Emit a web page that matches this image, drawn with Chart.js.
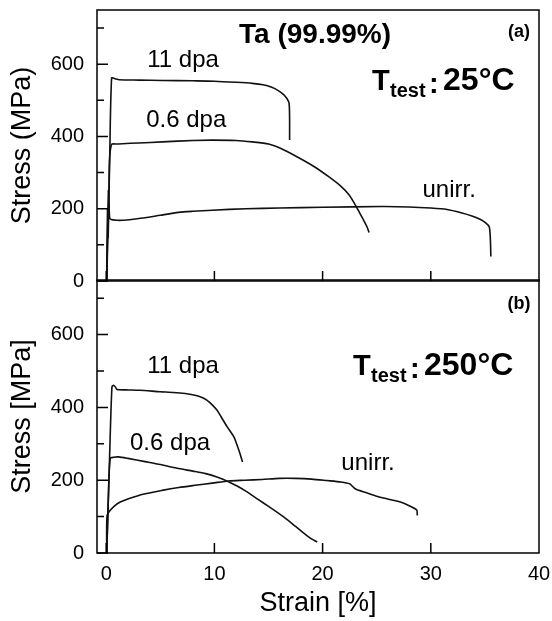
<!DOCTYPE html>
<html>
<head>
<meta charset="utf-8">
<script src="https://cdn.jsdelivr.net/npm/chart.js@4/dist/chart.umd.min.js"></script>
<style>
  html, body { margin: 0; padding: 0; background: #fff; }
  #wrap { position: relative; width: 552px; height: 621px; overflow: hidden; }
  #wrap canvas { position: absolute; left: 0; }
  #topChart { top: -15px; }
  #botChart { top: 255px; }
</style>
</head>
<body>
<div id="wrap">
  <canvas id="topChart" width="552" height="321"></canvas>
  <canvas id="botChart" width="552" height="366"></canvas>
</div>
<script>
// strain [%], stress [MPa]
// (a) T_test = 25°C
const rt11dpa = [[0.05,0],[0.3,300],[0.5,562],[0.8,560],[1.2,557],[3,556],[5.2,555],[8,554],[10,553],[12,550],
  [13.5,547],[14.5,543],[15.3,536],[15.9,527],[16.4,516],[16.7,505],[16.9,492],[16.95,450],[16.95,390]];
const rt06dpa = [[0.05,0],[0.2,250],[0.25,180],[0.3,330],[0.5,378],[1,379],[1.5,380],[3,382],[5.2,385],[8,389],
  [9.8,390],[12,389],[13.5,385],[15,379],[16.2,366],[17.5,346],[19.2,317],[20.5,290],[21.7,262],[22.4,240],
  [22.9,217],[23.4,190],[23.8,168],[24.1,150],[24.3,134]];
const rtUnirr = [[0.05,0],[0.12,200],[0.18,120],[0.25,215],[0.32,175],[0.45,170],[1,168],[1.5,168],[2.5,171],
  [3.6,175],[5,182],[6.7,190],[8,193],[9.8,196],[12.9,200],[16,202],[20,204],[25.4,206],[28,205],[30,202],
  [31.5,198],[32.8,189],[33.8,180],[34.6,170],[35.1,160],[35.4,150],[35.5,120],[35.55,68]];

// (b) T_test = 250°C
const ht11dpa = [[0.05,0],[0.3,250],[0.53,456],[0.68,461],[0.85,456],[1,449],[2,448],[3.1,447],[5,443],[6.2,441],
  [7.3,438],[8.1,434],[8.8,428],[9.3,420],[9.8,407],[10.25,392],[10.6,375],[11.2,346],[11.8,319],[12.1,296],
  [12.4,270],[12.6,250]];
const ht06dpa = [[0.05,0],[0.2,150],[0.37,260],[0.7,263],[1.15,264],[2,260],[3.6,251],[5,243],[6.7,232],[8,225],
  [9.2,218],[10.3,208],[11.3,196],[12.1,184],[12.9,170],[14,148],[15,128],[16.4,99],[17.5,73],[18.2,56],
  [18.9,40],[19.5,30]];
const htUnirr = [[0.05,0],[0.08,103],[0.4,118],[0.83,131],[1.3,140],[2.06,149],[3.5,162],[5.15,172],[6.7,180],
  [8.2,186],[9.8,192],[11.3,198],[12.8,200],[14.4,202],[16,205],[17.5,205],[19,203],[20.4,199],[21.7,195],
  [22.5,190],[22.8,182],[23.1,175],[24,166],[25.1,155],[26.2,147],[27.2,140],[28,130],[28.7,118],[28.75,103]];

const xTicks = [0, 10, 20, 30, 40];
const yTicks = [0, 100, 200, 300, 400, 500, 600, 700];
const yLabels = [0, 200, 400, 600];

// text placed in data coordinates
const topNotes = [
  { text: 'Ta (99.99%)', x: 19.3, y: 658, size: 28, bold: true },
  { text: '(a)', x: 38.15, y: 674, size: 18, bold: true },
  { text: '11 dpa', x: 7.1, y: 592, size: 24 },
  { text: '0.6 dpa', x: 7.4, y: 427, size: 24 },
  { text: 'unirr.', x: 31.7, y: 233, size: 24 }
];
const botNotes = [
  { text: '(b)', x: 38.15, y: 670, size: 18, bold: true },
  { text: '11 dpa', x: 7.1, y: 494, size: 24 },
  { text: '0.6 dpa', x: 5.9, y: 282, size: 24 },
  { text: 'unirr.', x: 24.2, y: 227, size: 24 }
];
const topTemp = { x: 24.57, y: 529, value: '25°C' };
const botTemp = { x: 22.81, y: 489, value: '250°C' };

const FONT = '"Liberation Sans", Arial, Helvetica, sans-serif';
Chart.defaults.font.family = FONT;
Chart.defaults.color = '#000';

const toXY = arr => arr.map(p => ({ x: p[0], y: p[1] }));
const curve = arr => ({
  data: toXY(arr), showLine: true, borderColor: '#111', borderWidth: 1.6,
  pointRadius: 0, tension: 0.25, fill: false
});

const framePlugin = {
  id: 'frame',
  afterDatasetsDraw(chart) {
    const { ctx, chartArea: a, scales: { x, y } } = chart;
    ctx.save();
    ctx.strokeStyle = '#000';
    ctx.lineWidth = 1.5;
    ctx.strokeRect(a.left, a.top, a.right - a.left, a.bottom - a.top);
    ctx.beginPath();
    yTicks.forEach(v => {
      const py = y.getPixelForValue(v);
      const len = yLabels.includes(v) ? 11 : 7;
      ctx.moveTo(a.left, py); ctx.lineTo(a.left + len, py);
    });
    xTicks.slice(0, -1).forEach(v => {
      const px = x.getPixelForValue(v);
      ctx.moveTo(px, a.bottom); ctx.lineTo(px, a.bottom - 10);
    });
    ctx.stroke();
    ctx.restore();
  }
};

function notesPlugin(notes, temp) {
  return {
    id: 'notes',
    afterDraw(chart) {
      const { ctx, scales: { x, y } } = chart;
      ctx.save();
      ctx.fillStyle = '#000';
      ctx.textBaseline = 'alphabetic';
      notes.forEach(n => {
        ctx.font = (n.bold ? 'bold ' : '') + n.size + 'px ' + FONT;
        ctx.textAlign = 'center';
        ctx.fillText(n.text, x.getPixelForValue(n.x), y.getPixelForValue(n.y));
      });
      // T_test: value
      const px = x.getPixelForValue(temp.x), py = y.getPixelForValue(temp.y);
      ctx.textAlign = 'left';
      ctx.font = 'bold 29px ' + FONT;
      ctx.fillText('T', px, py);
      ctx.font = 'bold 20px ' + FONT;
      ctx.fillText('test', px + 18, py + 7);
      ctx.font = 'bold 29px ' + FONT;
      ctx.fillText(':', px + 57, py + 3);
      ctx.font = 'bold 32px ' + FONT;
      ctx.fillText(temp.value, px + 71, py);
      ctx.restore();
    }
  };
}

function yScale(title) {
  return {
    type: 'linear', min: 0, max: 750,
    afterBuildTicks: s => { s.ticks = yTicks.map(v => ({ value: v })); },
    afterFit: s => { s.width = 97; },
    grid: { display: false, drawTicks: false },
    border: { display: false },
    ticks: { padding: 13, font: { size: 20 }, autoSkip: false,
      callback: v => yLabels.includes(v) ? String(v) : '' },
    title: { display: true, text: title, font: { size: 27 }, padding: { top: 6, bottom: 0 } }
  };
}

function xScale(show) {
  return {
    type: 'linear', min: -0.85, max: 40, display: show,
    afterBuildTicks: s => { s.ticks = xTicks.map(v => ({ value: v })); },
    afterFit: s => { s.height = show ? 68 : 0; },
    grid: { display: false },
    border: { display: false },
    ticks: { padding: 1, font: { size: 20 }, maxRotation: 0, autoSkip: false },
    title: { display: true, text: 'Strain [%]', font: { size: 27 }, padding: { top: 0, bottom: 1 } }
  };
}

const common = {
  responsive: false,
  animation: false,
  plugins: { legend: { display: false }, tooltip: { enabled: false } }
};

new Chart(document.getElementById('topChart'), {
  type: 'scatter',
  data: { datasets: [curve(rt11dpa), curve(rt06dpa), curve(rtUnirr)] },
  options: Object.assign({}, common, {
    layout: { padding: { top: 25, right: 13, bottom: 25, left: 0 } },
    scales: { x: xScale(false), y: yScale('Stress (MPa)') }
  }),
  plugins: [framePlugin, notesPlugin(topNotes, topTemp)]
});

new Chart(document.getElementById('botChart'), {
  type: 'scatter',
  data: { datasets: [curve(ht11dpa), curve(ht06dpa), curve(htUnirr)] },
  options: Object.assign({}, common, {
    layout: { padding: { top: 25, right: 13, bottom: 0, left: 0 } },
    scales: { x: xScale(true), y: yScale('Stress [MPa]') }
  }),
  plugins: [framePlugin, notesPlugin(botNotes, botTemp)]
});
</script>
</body>
</html>
